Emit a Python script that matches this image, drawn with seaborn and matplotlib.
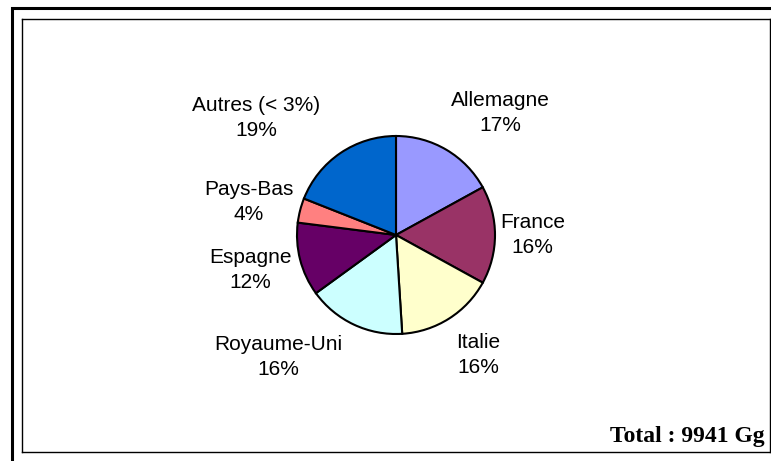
import matplotlib
matplotlib.use("Agg")
import matplotlib.pyplot as plt
import seaborn as sns
from matplotlib.patches import Rectangle

# data
countries = ["Allemagne", "France", "Italie", "Royaume-Uni", "Espagne", "Pays-Bas", "Autres (< 3%)"]
shares = [17, 16, 16, 16, 12, 4, 19]
colors = ["#9999FF", "#993366", "#FFFFCC", "#CCFFFF", "#660066", "#FF8080", "#0066CC"]
total_text = "Total : 9941 Gg"

# label placement (pie radius units), like the excel layout
label_pos = [(1.05, 1.23), (1.38, 0.0), (0.83, -1.21), (-1.19, -1.23),
             (-1.47, -0.35), (-1.49, 0.33), (-1.41, 1.18)]

sns.set_theme(style="white")
plt.rcParams["font.family"] = ["Liberation Sans", "DejaVu Sans"]

W, H = 771, 461
fig = plt.figure(figsize=(W / 100, H / 100), dpi=100)

# outer thick frame (cut off at right / bottom)
fig.patches.append(Rectangle((11.5 / W, -0.05), 1.1, 1 - 7.7 / H + 0.05,
                             transform=fig.transFigure, fill=False,
                             edgecolor="black", linewidth=2.2))

left, right, top, bottom = 21.5, 770, 19, 452
ax = fig.add_axes([left / W, (H - bottom) / H, (right - left) / W, (bottom - top) / H])
cx, cy, scale = 396, 235, 99

ax.pie(shares, colors=sns.color_palette(colors), startangle=90, counterclock=False,
       radius=1, center=(0, 0), frame=True,
       wedgeprops=dict(edgecolor="black", linewidth=1.5))
ax.set_xlim((left - cx) / scale, (right - cx) / scale)
ax.set_ylim((cy - bottom) / scale, (cy - top) / scale)
ax.set_aspect("equal")
ax.set_xticks([])
ax.set_yticks([])
for s in ax.spines.values():
    s.set_visible(True)
    s.set_color("black")
    s.set_linewidth(1.0)

for name, val, (x, y) in zip(countries, shares, label_pos):
    ax.text(x, y, f"{name}\n{val}%", ha="center", va="center",
            fontsize=15, linespacing=1.4, color="black")

ax.text(0.993, 0.023, total_text, transform=ax.transAxes, ha="right", va="baseline",
        fontsize=17, fontweight="bold", color="black",
        family=["Liberation Serif", "DejaVu Serif"])

fig.savefig("out.png", dpi=100)
